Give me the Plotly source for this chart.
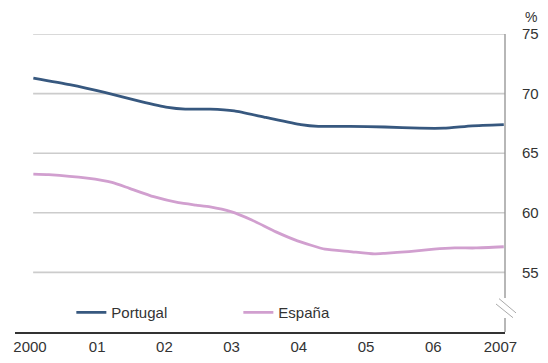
import plotly.graph_objects as go

# Portugal (%)
PT_X = [2000.05, 2000.59, 2001.11, 2001.64, 2002.05, 2002.31, 2002.68, 2003.04,
        2003.51, 2004.03, 2004.29, 2004.76, 2005.28, 2005.80, 2006.16, 2006.58, 2007.05]
PT_Y = [71.3, 70.75, 70.1, 69.35, 68.85, 68.7, 68.7, 68.55,
        68.0, 67.4, 67.25, 67.25, 67.2, 67.1, 67.1, 67.3, 67.4]

# España (%)
ES_X = [2000.05, 2000.28, 2000.85, 2001.22, 2001.48, 2001.84, 2002.21, 2002.47,
        2002.68, 2002.99, 2003.30, 2003.66, 2003.98, 2004.39, 2004.76, 2005.12,
        2005.28, 2005.64, 2006.01, 2006.32, 2006.63, 2007.05]
ES_Y = [63.25, 63.2, 62.9, 62.55, 62.05, 61.35, 60.85, 60.65,
        60.5, 60.1, 59.4, 58.4, 57.65, 56.95, 56.75, 56.55,
        56.6, 56.75, 56.95, 57.05, 57.05, 57.15]

X_TICKS = [2000, 2001, 2002, 2003, 2004, 2005, 2006, 2007]
X_LABELS = ["2000", "01", "02", "03", "04", "05", "06", "2007"]
Y_TICKS = [55, 60, 65, 70, 75]

FONT = "Liberation Sans, Arial, sans-serif"
TEXT = "#333333"

fig = go.Figure()
fig.add_trace(go.Scatter(x=PT_X, y=PT_Y, mode="lines", name="Portugal",
                         line=dict(color="#37587f", width=2.8, shape="spline", smoothing=0.5)))
fig.add_trace(go.Scatter(x=ES_X, y=ES_Y, mode="lines", name="España",
                         line=dict(color="#d19fcf", width=2.8, shape="spline", smoothing=0.5)))

# gridlines (start a little right of the axis start)
shapes = []
for v in Y_TICKS:
    shapes.append(dict(type="line", xref="paper", yref="y", x0=0.037, x1=1, y0=v, y1=v,
                       line=dict(color="#cccccc", width=1.6), layer="below"))

# right axis with break marks
ax = dict(color="#999999", width=1.4)
shapes += [
    dict(type="line", xref="paper", yref="y", x0=1, x1=1, y0=75, y1=52.86, line=ax),
    dict(type="line", xref="paper", yref="y", x0=1, x1=1, y0=51.18, y1=50, line=ax),
    dict(type="line", xref="paper", yref="y", x0=(496 - 15) / 490, x1=(513 - 15) / 490,
         y0=52.35, y1=51.2, line=dict(color="#aaaaaa", width=1)),
    dict(type="line", xref="paper", yref="y", x0=(499 - 15) / 490, x1=(516 - 15) / 490,
         y0=52.8, y1=51.6, line=dict(color="#aaaaaa", width=1)),
]

# page body has an 8px margin, so the figure is 8px smaller than the window
fig.update_layout(
    width=540, height=355,
    margin=dict(l=7, r=43, t=26, b=31),
    paper_bgcolor="white", plot_bgcolor="white",
    font=dict(family=FONT, size=15, color=TEXT),
    shapes=shapes,
    showlegend=True,
    legend=dict(orientation="h", x=0.115, xanchor="left", y=0.065, yanchor="middle",
                font=dict(size=15, color=TEXT), bgcolor="rgba(0,0,0,0)",
                entrywidth=122, entrywidthmode="pixels"),
    xaxis=dict(range=[1999.777, 2007.068], tickvals=X_TICKS, ticktext=X_LABELS,
               showgrid=False, zeroline=False, showline=True, linecolor="#333333",
               linewidth=2, ticks="", automargin=False, tickfont=dict(size=15, color=TEXT)),
    yaxis=dict(range=[50, 75], side="right", tickvals=Y_TICKS, showgrid=False,
               zeroline=False, showline=False, ticks="", ticklabelstandoff=16,
               automargin=False, tickfont=dict(size=15, color=TEXT)),
    annotations=[dict(text="%", xref="paper", yref="paper", x=1.067, y=1.057,
                      xanchor="right", yanchor="middle", showarrow=False, borderpad=0,
                      font=dict(size=14, color=TEXT))],
)

fig.write_html("out.html")
